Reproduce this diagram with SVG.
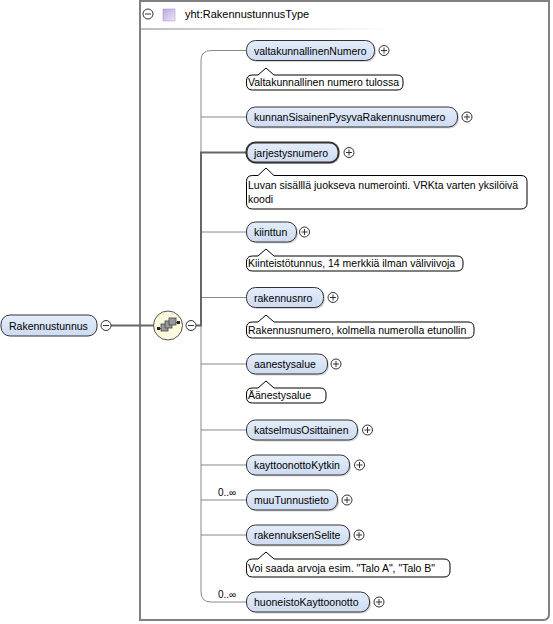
<svg xmlns="http://www.w3.org/2000/svg" width="553" height="624" viewBox="0 0 553 624">
<style>
.t{font-family:"Liberation Sans",Arial,sans-serif;font-size:10.5px;fill:#000}
.h{font-family:"Liberation Sans",Arial,sans-serif;font-size:11px;fill:#000}
.node{fill:url(#ng);stroke:#333;stroke-width:1}
.shadow{fill:#b8b8b8;opacity:0.6}
.ann{fill:#fff;stroke:#000;stroke-width:1}
.pm{fill:#fff;stroke:#333;stroke-width:1}
.sign{stroke:#333;stroke-width:1;fill:none}
.con{stroke:#888;stroke-width:1;fill:none}
.thick{stroke:#666;stroke-width:2;fill:none}
</style>
<defs>
<linearGradient id="ng" x1="0" y1="0" x2="0" y2="1">
<stop offset="0" stop-color="#e4edfb"/>
<stop offset="1" stop-color="#cddbf1"/>
</linearGradient>
<linearGradient id="sep" x1="0" y1="0" x2="1" y2="0">
<stop offset="0" stop-color="#bdbdbd"/>
<stop offset="1" stop-color="#ffffff"/>
</linearGradient>
<linearGradient id="pg" x1="0" y1="0" x2="1" y2="1">
<stop offset="0" stop-color="#b9a8e0"/>
<stop offset="1" stop-color="#ece6f8"/>
</linearGradient>
<g id="plus"><circle class="pm" cx="0" cy="0" r="5"/><path class="sign" d="M-3 0H3M0 -3V3"/></g>
<g id="minus"><circle class="pm" cx="0" cy="0" r="5"/><path class="sign" d="M-3 0H3"/></g>
</defs>

<g id="typebox">
<path d="M140 1 H549 V614 Q549 620 543 620 H140 Z" fill="#fff" stroke="#808080" stroke-width="2"/>
<use href="#minus" x="148" y="14"/>
<rect x="163" y="9" width="12" height="12" fill="url(#pg)" stroke="#9a8cc0" stroke-width="0.5"/>
<text class="h" x="185" y="18">yht:RakennustunnusType</text>
<rect x="141" y="28" width="250" height="2" fill="url(#sep)"/>
</g>

<g id="connectors">
<path class="thick" d="M111 325.5 H154"/>
<path class="con" d="M246 50.5 H211 Q201 50.5 201 60.5 V592 Q201 602 211 602 H246"/>
<path class="con" d="M201 117 H246 M201 232 H246 M201 297.5 H246 M201 364 H246 M201 430 H246 M201 465 H246 M201 500 H246 M201 535 H246"/>
<path class="thick" d="M196 325.5 H201 V152.5 H246"/>
<text class="t" x="218" y="496" style="font-size:10px">0..∞</text>
<text class="t" x="218" y="598" style="font-size:10px">0..∞</text>
</g>

<g id="root">
<rect x="1" y="315" width="96" height="21" rx="9" class="node"/>
<text class="t" x="9" y="329.5">Rakennustunnus</text>
<use href="#minus" x="106" y="325.5"/>
</g>

<g id="sequence">
<circle cx="168" cy="325.5" r="14.5" fill="#fcf9dc" stroke="#555" stroke-width="1"/>
<path d="M158 328.5 H162 M174 322.5 H178" stroke="#333" stroke-width="1"/>
<rect x="157" y="327" width="3" height="3" fill="#222"/>
<rect x="177" y="321" width="3" height="3" fill="#222"/>
<rect x="161" y="324" width="7" height="7" fill="#999" stroke="#444" stroke-width="0.8"/>
<rect x="165" y="321" width="7" height="7" fill="#999" stroke="#444" stroke-width="0.8"/>
<rect x="169" y="318" width="7" height="7" fill="#999" stroke="#444" stroke-width="0.8"/>
<use href="#minus" x="191" y="325.5"/>
</g>

<g id="valtakunnallinenNumero">
<rect x="248" y="42" width="128" height="20" rx="9" class="shadow"/>
<rect x="246.5" y="40.5" width="128" height="20" rx="9" class="node"/>
<text class="t" x="254" y="54.5">valtakunnallinenNumero</text>
<use href="#plus" x="384" y="50.5"/>
<path class="ann" d="M252.5 75 H258 L266 68 L274 75 H397 Q403 75 403 81 V84 Q403 90 397 90 H252.5 Q246.5 90 246.5 84 V81 Q246.5 75 252.5 75 Z"/>
<text class="t" x="248" y="86">Valtakunnallinen numero tulossa</text>
</g>

<g id="kunnanSisainenPysyvaRakennusnumero">
<rect x="248" y="108.5" width="211" height="20" rx="9" class="shadow"/>
<rect x="246.5" y="107" width="211" height="20" rx="9" class="node"/>
<text class="t" x="254" y="121">kunnanSisainenPysyvaRakennusnumero</text>
<use href="#plus" x="467" y="117"/>
</g>

<g id="jarjestysnumero">
<rect x="248" y="144" width="92" height="20" rx="9" class="shadow"/>
<rect x="246.5" y="142.5" width="92" height="20" rx="9" class="node" style="stroke-width:2"/>
<text class="t" x="254" y="156.5">jarjestysnumero</text>
<use href="#plus" x="349" y="152.5"/>
<path class="ann" d="M252.5 175.5 H258 L266 168 L274 175.5 H521 Q527 175.5 527 181.5 V203 Q527 209 521 209 H252.5 Q246.5 209 246.5 203 V181.5 Q246.5 175.5 252.5 175.5 Z"/>
<text class="t" x="248" y="189">Luvan sisälllä juokseva numerointi. VRKta varten yksilöivä</text>
<text class="t" x="248" y="203">koodi</text>
</g>

<g id="kiinttun">
<rect x="248" y="223.5" width="50" height="20" rx="9" class="shadow"/>
<rect x="246.5" y="222" width="50" height="20" rx="9" class="node"/>
<text class="t" x="254" y="236">kiinttun</text>
<use href="#plus" x="304.5" y="232"/>
<path class="ann" d="M252.5 256 H258 L266 249 L274 256 H457 Q463 256 463 262 V265 Q463 271 457 271 H252.5 Q246.5 271 246.5 265 V262 Q246.5 256 252.5 256 Z"/>
<text class="t" x="248" y="267">Kiinteistötunnus, 14 merkkiä ilman väliviivoja</text>
</g>

<g id="rakennusnro">
<rect x="248" y="289" width="77" height="20" rx="9" class="shadow"/>
<rect x="246.5" y="287.5" width="77" height="20" rx="9" class="node"/>
<text class="t" x="254" y="301.5">rakennusnro</text>
<use href="#plus" x="333" y="297.5"/>
<path class="ann" d="M252.5 322 H258 L266 315 L274 322 H468 Q474 322 474 328 V332 Q474 338 468 338 H252.5 Q246.5 338 246.5 332 V328 Q246.5 322 252.5 322 Z"/>
<text class="t" x="248" y="333.5">Rakennusnumero, kolmella numerolla etunollin</text>
</g>

<g id="aanestysalue">
<rect x="248" y="355.5" width="81" height="20" rx="9" class="shadow"/>
<rect x="246.5" y="354" width="81" height="20" rx="9" class="node"/>
<text class="t" x="254" y="368">aanestysalue</text>
<use href="#plus" x="336" y="364"/>
<path class="ann" d="M252.5 388 H258 L266 381 L274 388 H320 Q326 388 326 394 V397 Q326 403 320 403 H252.5 Q246.5 403 246.5 397 V394 Q246.5 388 252.5 388 Z"/>
<text class="t" x="248" y="399">Äänestysalue</text>
</g>

<g id="katselmusOsittainen">
<rect x="248" y="421.5" width="111" height="20" rx="9" class="shadow"/>
<rect x="246.5" y="420" width="111" height="20" rx="9" class="node"/>
<text class="t" x="254" y="434">katselmusOsittainen</text>
<use href="#plus" x="367.5" y="430"/>
</g>

<g id="kayttoonottoKytkin">
<rect x="248" y="456.5" width="103" height="20" rx="9" class="shadow"/>
<rect x="246.5" y="455" width="103" height="20" rx="9" class="node"/>
<text class="t" x="254" y="469">kayttoonottoKytkin</text>
<use href="#plus" x="359.5" y="465"/>
</g>

<g id="muuTunnustieto">
<rect x="248" y="491.5" width="91" height="20" rx="9" class="shadow"/>
<rect x="246.5" y="490" width="91" height="20" rx="9" class="node"/>
<text class="t" x="254" y="504">muuTunnustieto</text>
<use href="#plus" x="347" y="500"/>
</g>

<g id="rakennuksenSelite">
<rect x="248" y="526.5" width="103" height="20" rx="9" class="shadow"/>
<rect x="246.5" y="525" width="103" height="20" rx="9" class="node"/>
<text class="t" x="254" y="539">rakennuksenSelite</text>
<use href="#plus" x="359" y="535"/>
<path class="ann" d="M252.5 559 H258 L266 552 L274 559 H444 Q450 559 450 565 V571 Q450 577 444 577 H252.5 Q246.5 577 246.5 571 V565 Q246.5 559 252.5 559 Z"/>
<text class="t" x="248" y="572">Voi saada arvoja esim. "Talo A", "Talo B"</text>
</g>

<g id="huoneistoKayttoonotto">
<rect x="248" y="593.5" width="123" height="20" rx="9" class="shadow"/>
<rect x="246.5" y="592" width="123" height="20" rx="9" class="node"/>
<text class="t" x="254" y="606">huoneistoKayttoonotto</text>
<use href="#plus" x="379" y="602"/>
</g>
</svg>
